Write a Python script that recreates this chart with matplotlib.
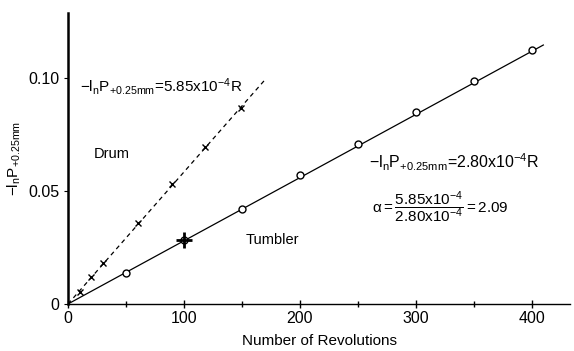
import matplotlib
matplotlib.use("Agg")
import matplotlib.pyplot as plt
import numpy as np

plt.rcParams['font.family'] = ['Liberation Sans', 'DejaVu Sans']
plt.rcParams['mathtext.fontset'] = 'custom'
plt.rcParams['mathtext.rm'] = 'Liberation Sans'
plt.rcParams['mathtext.it'] = 'Liberation Sans'
plt.rcParams['mathtext.bf'] = 'Liberation Sans:bold'

# Data
drum_rev = [10, 20, 30, 60, 90, 118, 149]
drum_val = [0.0051, 0.0118, 0.0180, 0.0360, 0.0530, 0.0698, 0.0870]
tumbler_rev = [50, 100, 150, 200, 250, 300, 350, 400]
tumbler_val = [0.0138, 0.0282, 0.0422, 0.0570, 0.0707, 0.0853, 0.0987, 0.1124]
drum_slope = 5.85e-4
tumbler_slope = 2.80e-4
xticks = [0, 100, 200, 300, 400]
yticks = [0, 0.05, 0.10]
ytick_labels = ['0', '0.05', '0.10']

fig = plt.figure(figsize=(5.74, 3.51), dpi=100)
ax = fig.add_axes([0.1185, 0.134, 0.8745, 0.829])

# fitted lines
xd = np.array([0, 170])
ax.plot(xd, drum_slope * xd, color='black', lw=0.9, ls=(0, (3.5, 3)))
xt = np.array([0, 410])
ax.plot(xt, tumbler_slope * xt, color='black', lw=0.9)

ax.plot(drum_rev, drum_val, ls='none', marker='x', ms=4, mew=1.0, color='black')
ax.plot(tumbler_rev, tumbler_val, ls='none', marker='o', ms=5, mew=1.0,
        mfc='white', mec='black', zorder=3)
ax.plot([tumbler_rev[1]], [tumbler_val[1]], ls='none', marker='+', ms=11, mew=2.0,
        color='black', zorder=4)

ax.set_xlim(0, 433)
ax.set_ylim(0, 0.129)
ax.set_xticks(xticks)
ax.set_xticks([50, 150, 250, 350], minor=True)
ax.set_yticks(yticks)
ax.set_yticklabels(ytick_labels)
ax.tick_params(axis='x', which='major', direction='inout', length=6, width=1, labelsize=11.5, pad=2)
ax.tick_params(axis='x', which='minor', direction='inout', length=4, width=1)
ax.tick_params(axis='y', which='major', direction='out', length=3, width=0.8, labelsize=11.5, pad=3)

for s in ['top', 'right']:
    ax.spines[s].set_visible(False)
ax.spines['left'].set_linewidth(1.8)
ax.spines['bottom'].set_linewidth(1.0)

ax.set_xlabel('Number of Revolutions', fontsize=11, labelpad=6)
ax.set_ylabel(r'$-\mathrm{l_nP_{+0.25mm}}$', fontsize=11, labelpad=4)

ax.text(10, 0.0964, r'$-\mathrm{l_nP_{+0.25mm}}$=5.85x10$^{-4}$R', fontsize=11, va='center', ha='left')
ax.text(22, 0.0667, 'Drum', fontsize=10.5, va='center', ha='left')
ax.text(260, 0.0627, r'$-\mathrm{l_nP_{+0.25mm}}$=2.80x10$^{-4}$R', fontsize=11.5, va='center', ha='left')
ax.text(153, 0.0284, 'Tumbler', fontsize=10.5, va='center', ha='left')
ax.text(262, 0.043, r'$\mathrm{\alpha=\dfrac{5.85x10^{-4}}{2.80x10^{-4}}=2.09}$', fontsize=11,
        va='center', ha='left')

fig.savefig('out.png', dpi=100)
